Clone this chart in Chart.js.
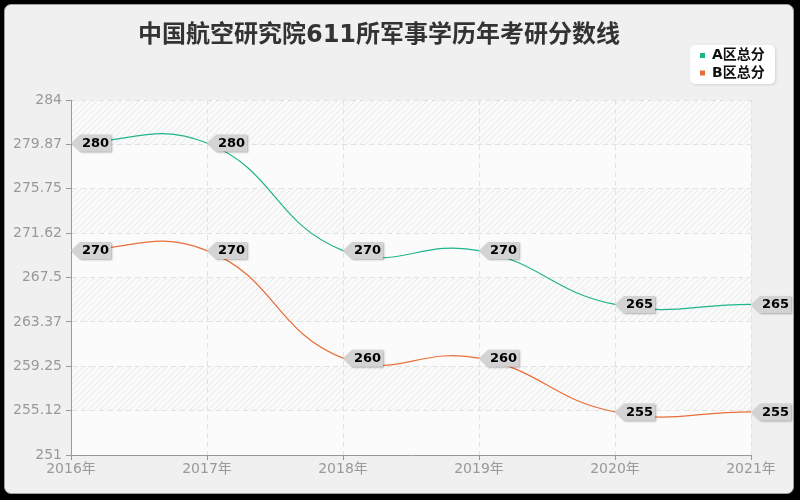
<!DOCTYPE html>
<html>
<head>
<meta charset="utf-8">
<script src="https://cdn.jsdelivr.net/npm/chart.js@4.4.0/dist/chart.umd.min.js"></script>
<style>
html, body { margin: 0; padding: 0; background: #000; }
#wrap { position: relative; width: 800px; height: 500px; overflow: hidden; }
#frame { position: absolute; left: 4px; top: 4px; width: 788px; height: 488px; background: #f0f0f0; border: 1px solid #a0a0a0; border-radius: 7px; }
#c { position: absolute; left: 0; top: 0; }
</style>
</head>
<body>
<div id="wrap">
  <div id="frame"></div>
  <canvas id="c" width="800" height="500"></canvas>
</div>
<script>
var titleText = '中国航空研究院611所军事学历年考研分数线';
var years = ['2016年', '2017年', '2018年', '2019年', '2020年', '2021年'];
var seriesNames = ['A区总分', 'B区总分'];
var scoresA = [280, 280, 270, 270, 265, 265];
var scoresB = [270, 270, 260, 260, 255, 255];
var yTickValues = [251, 255.125, 259.25, 263.375, 267.5, 271.625, 275.75, 279.875, 284];
var yTickLabels = ['251', '255.12', '259.25', '263.37', '267.5', '271.62', '275.75', '279.87', '284'];

var colorA = '#1fb58c';
var colorB = '#e86e3a';
var fontFamily = '"DejaVu Sans", "Noto Sans CJK SC", sans-serif';

// hatched pattern for the striped bands
function makeHatch() {
    var p = document.createElement('canvas');
    p.width = 6; p.height = 6;
    var g = p.getContext('2d');
    g.fillStyle = '#fafafa';
    g.fillRect(0, 0, 6, 6);
    g.strokeStyle = 'rgba(0,0,0,0.07)';
    g.lineWidth = 1;
    g.beginPath();
    g.moveTo(-1, 7); g.lineTo(7, -1);
    g.moveTo(-1, 1); g.lineTo(1, -1);
    g.moveTo(5, 7); g.lineTo(7, 5);
    g.stroke();
    return g.createPattern(p, 'repeat');
}

var bgPlugin = {
    id: 'plotBg',
    beforeDraw: function (chart) {
        var ctx = chart.ctx, a = chart.chartArea, y = chart.scales.y;
        var hatch = makeHatch();
        ctx.save();
        for (var i = 0; i < yTickValues.length - 1; i++) {
            var y1 = y.getPixelForValue(yTickValues[i]);
            var y2 = y.getPixelForValue(yTickValues[i + 1]);
            ctx.fillStyle = (i % 2 === 1) ? hatch : '#fbfbfb';
            ctx.fillRect(a.left, y2, a.right - a.left, y1 - y2);
        }
        ctx.restore();
    }
};

function drawTag(ctx, x, y, text) {
    ctx.font = 'bold 13px ' + fontFamily;
    var w = ctx.measureText(text).width;
    var h = 17, arrow = 9, pad = 2;
    ctx.save();
    ctx.shadowColor = 'rgba(0,0,0,0.3)';
    ctx.shadowBlur = 2;
    ctx.shadowOffsetX = 1;
    ctx.shadowOffsetY = 1;
    ctx.fillStyle = '#d3d3d3';
    ctx.beginPath();
    ctx.moveTo(x, y);
    ctx.lineTo(x + arrow, y - h / 2);
    ctx.lineTo(x + arrow + w + pad * 2, y - h / 2);
    ctx.lineTo(x + arrow + w + pad * 2, y + h / 2);
    ctx.lineTo(x + arrow, y + h / 2);
    ctx.closePath();
    ctx.fill();
    ctx.restore();
    ctx.fillStyle = '#000';
    ctx.textAlign = 'left';
    ctx.textBaseline = 'middle';
    ctx.fillText(text, x + arrow + pad, y + 0.5);
}

var labelPlugin = {
    id: 'tags',
    afterDraw: function (chart) {
        var ctx = chart.ctx;
        ctx.save();
        chart.data.datasets.forEach(function (ds, di) {
            chart.getDatasetMeta(di).data.forEach(function (pt, i) {
                drawTag(ctx, pt.x, pt.y, String(ds.data[i]));
            });
        });

        // title
        ctx.fillStyle = '#333';
        ctx.font = 'bold 24px ' + fontFamily;
        ctx.textAlign = 'center';
        ctx.textBaseline = 'middle';
        ctx.fillText(titleText, 379, 36);

        // legend box
        var bx = 690, by = 45, bw = 85, bh = 39, r = 5;
        ctx.save();
        ctx.shadowColor = 'rgba(0,0,0,0.12)';
        ctx.shadowBlur = 3;
        ctx.shadowOffsetX = 1;
        ctx.shadowOffsetY = 1;
        ctx.fillStyle = '#fff';
        ctx.beginPath();
        ctx.roundRect(bx, by, bw, bh, r);
        ctx.fill();
        ctx.restore();
        ctx.font = 'bold 14px ' + fontFamily;
        ctx.textAlign = 'left';
        ctx.textBaseline = 'middle';
        chart.data.datasets.forEach(function (ds, di) {
            var ly = 55.5 + di * 17.5;
            ctx.fillStyle = ds.borderColor;
            ctx.fillRect(700, ly - 2.5, 5, 5);
            ctx.fillStyle = '#111';
            ctx.fillText(ds.label, 712, ly);
        });
        ctx.restore();
    }
};

new Chart(document.getElementById('c').getContext('2d'), {
    type: 'line',
    data: {
        labels: years,
        datasets: [
            {
                label: seriesNames[0],
                data: scoresA,
                borderColor: colorA,
                backgroundColor: colorA,
                borderWidth: 1.2,
                pointRadius: 0,
                tension: 0.45,
                fill: false
            },
            {
                label: seriesNames[1],
                data: scoresB,
                borderColor: colorB,
                backgroundColor: colorB,
                borderWidth: 1.2,
                pointRadius: 0,
                tension: 0.45,
                fill: false
            }
        ]
    },
    options: {
        responsive: false,
        animation: false,
        layout: { padding: { left: 0, top: 100, right: 49, bottom: 0 } },
        plugins: {
            legend: { display: false },
            title: { display: false },
            tooltip: { enabled: false }
        },
        scales: {
            x: {
                grid: { color: '#e2e2e2', tickColor: '#999', tickLength: 5 },
                border: { color: '#999', dash: [5, 4] },
                ticks: { color: '#999', font: { size: 14, family: fontFamily }, padding: 1, maxRotation: 0, autoSkip: false },
                afterFit: function (s) { s.height = 45; }
            },
            y: {
                min: 251,
                max: 284,
                grid: { color: '#e2e2e2', tickColor: '#999', tickLength: 5 },
                border: { color: '#999', dash: [5, 4] },
                ticks: {
                    color: '#999',
                    font: { size: 14, family: fontFamily },
                    padding: 4,
                    callback: function (v, i) { return yTickLabels[i]; }
                },
                afterBuildTicks: function (s) {
                    s.ticks = yTickValues.map(function (v) { return { value: v }; });
                },
                afterFit: function (s) { s.width = 71; }
            }
        }
    },
    plugins: [bgPlugin, labelPlugin]
});
</script>
</body>
</html>
